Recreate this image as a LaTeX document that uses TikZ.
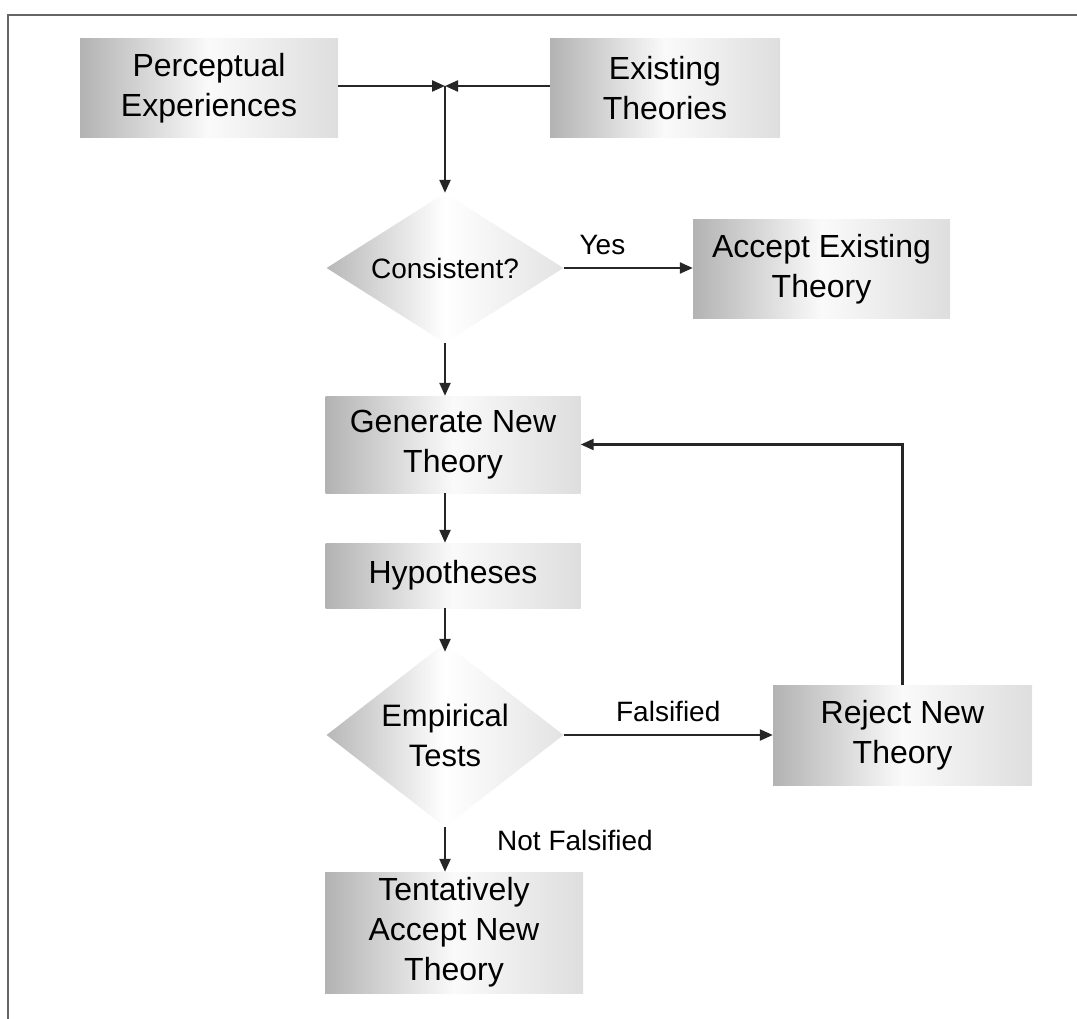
\documentclass[tikz,border=0pt]{standalone}
\usepackage{fontspec}
\setmainfont{Liberation Sans}
\usetikzlibrary{shapes.geometric,arrows.meta}
\begin{document}
\begin{tikzpicture}[x=1pt,y=-1pt,
  box/.style={rectangle,inner sep=0pt,align=center,left color=black!30,right color=black!13,middle color=black!2,
    font=\fontsize{32}{40}\selectfont},
  dia/.style={diamond,inner sep=0pt,align=center,left color=black!28,right color=black!11,middle color=white,
    font=\fontsize{31}{40}\selectfont},
  conn/.style={line width=2.3pt,draw=black!85,-{Triangle[length=13pt,width=11pt]}},
  lab/.style={font=\fontsize{28}{32}\selectfont,inner sep=0pt},
  frameline/.style={line width=2.8pt,draw=black!60}]
\useasboundingbox (0,0) rectangle (1077,1019);
\draw[frameline] (8,1019) -- (8,15) -- (1077,15);
\node[box,minimum width=258pt,minimum height=99pt] (perc) at (209,88) {Perceptual\\Experiences};
\node[box,minimum width=230pt,minimum height=99pt] (exist) at (665,88) {Existing\\Theories};
\coordinate (j) at (445,86);
\node[dia,aspect=1.6,minimum width=237pt,minimum height=150pt,font=\fontsize{28}{32}\selectfont] (cons) at (445,268) {Consistent?};
\node[box,minimum width=257pt,minimum height=98pt] (acc) at (821.5,269) {Accept Existing\\Theory};
\node[box,minimum width=255pt,minimum height=97pt] (gen) at (453,444.5) {Generate New\\Theory};
\node[box,minimum width=255pt,minimum height=65pt] (hyp) at (453,575.5) {Hypotheses};
\node[dia,aspect=1.29,minimum width=237pt,minimum height=184pt] (emp) at (445,735) {Empirical\\Tests};
\node[box,minimum width=259pt,minimum height=100pt] (rej) at (902.5,735) {Reject New\\Theory};
\node[box,minimum width=258pt,minimum height=121pt] (tent) at (454,932.5) {Tentatively\\Accept New\\Theory};
\draw[conn] (perc.east |- j) -- (j);
\draw[conn] (exist.west |- j) -- (j);
\draw[conn] (j) -- (cons.north);
\draw[conn] (cons.east) -- (acc.west |- cons.east) node[lab,pos=0.3,above=12pt] (yes) {Yes};
\draw[conn] (cons.south) -- (cons.south |- gen.north);
\draw[conn] (cons.south |- gen.south) -- (cons.south |- hyp.north);
\draw[conn] (cons.south |- hyp.south) -- ([yshift=-9pt]emp.north);
\draw[conn] (emp.east) -- (emp.east -| rej.west) node[lab,midway,above=12pt] (fals) {Falsified};
\draw[conn] (rej.north) |- (gen.east);
\draw[conn] (emp.south) -- (emp.south |- tent.north);
\node[lab] (nf) at (575,840) {Not Falsified};
\end{tikzpicture}
\end{document}
